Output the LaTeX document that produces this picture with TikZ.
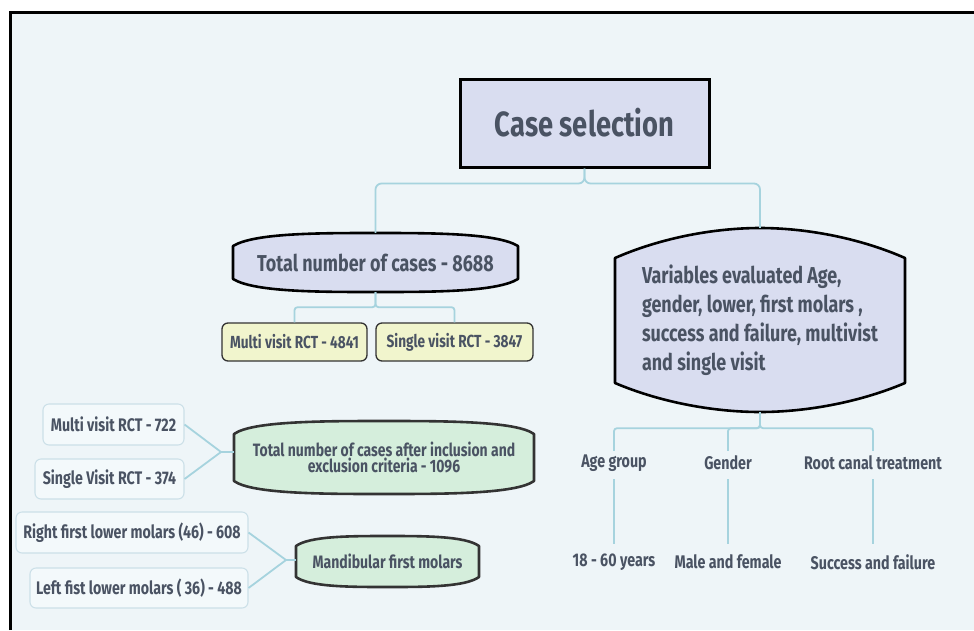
\documentclass[tikz,border=0pt]{standalone}
\usepackage{fontspec}
\setmainfont{Fira Sans Bold}[FakeStretch=0.78]
\definecolor{bgc}{HTML}{EEF5F8}
\definecolor{lav}{HTML}{D9DDF0}
\definecolor{yel}{HTML}{F1F5CD}
\definecolor{grn}{HTML}{D5EEDC}
\definecolor{conc}{HTML}{A6D3DE}
\definecolor{txt}{HTML}{4A5363}
\definecolor{leaff}{HTML}{F3F9FB}
\definecolor{leafd}{HTML}{CCE0E8}
% shape parameters: \pa, \pb (horizontal fractions), \pc (height fraction of first control)
\newcommand\hexnode[9]{%
  \pgfmathsetmacro\hM{(#3+#4)/2}%
  \pgfmathsetmacro\hh{(#4-#3)/2}%
  \pgfmathsetmacro\hW{#4-#3}%
  \pgfmathsetmacro\hH{#8-#5}%
  \pgfmathsetmacro\hC{(#5+#8)/2}%
  \pgfmathsetmacro\tA{#6+\pc*(#5-#6)}%
  \pgfmathsetmacro\bA{#7+\pc*(#8-#7)}%
  \path[#2] (#3,#7) -- (#3,#6)
    .. controls (#3+\pa*\hh,\tA) and (\hM-\pb*\hh,#5) .. (\hM,#5)
    .. controls (\hM+\pb*\hh,#5) and (#4-\pa*\hh,\tA) .. (#4,#6) -- (#4,#7)
    .. controls (#4-\pa*\hh,\bA) and (\hM+\pb*\hh,#8) .. (\hM,#8)
    .. controls (\hM-\pb*\hh,#8) and (#3+\pa*\hh,\bA) .. cycle;%
  \node[inner sep=0pt, minimum width=\hW pt, minimum height=\hH pt, text=txt, #9] (#1) at (\hM,\hC)}
\begin{document}
\begin{tikzpicture}[x=1pt,y=-1pt,
  lavshape/.style={fill=lav, draw=black, line width=2.6pt, line join=round},
  grnshape/.style={fill=grn, draw=black!80, line width=2.6pt, line join=round},
  conn/.style={draw=conc, line width=1.8pt},
  casebox/.style={fill=lav, draw=black, line width=3pt, text=txt, inner sep=0pt,
    font=\fontsize{35}{40}\selectfont},
  yelbox/.style={fill=yel, draw=black!80, line width=1.3pt, rounded corners=6pt,
    text=txt, inner sep=0pt, minimum height=38pt, font=\fontsize{17.5}{20}\selectfont},
  leafbox/.style={fill=leaff, draw=leafd, line width=1.1pt, rounded corners=6pt,
    text=txt, inner sep=0pt, font=\fontsize{18.2}{20}\selectfont},
  lbl/.style={text=txt, inner sep=0pt, minimum height=24pt, font=\fontsize{18.3}{20}\selectfont}]
\useasboundingbox (0,0) rectangle (974,630);
\fill[white] (0,0) rectangle (974,630);
\fill[bgc] (10,12) rectangle (974,630);
\draw[line width=3pt] (10,630) -- (10,12) -- (974,12);

% top box
\node[casebox, minimum width=249pt, minimum height=88pt] (case) at (584.5,123) {Case selection};

% main shapes
\def\pa{0.15}\def\pb{0.4}\def\pc{1}
\hexnode{total}{lavshape}{233}{518}{233}{246}{279}{292}{font=\fontsize{23}{26}\selectfont}
  {Total number of cases - 8688};
\def\pa{0.33}\def\pb{0.3}\def\pc{0.7}
\hexnode{var}{lavshape}{615}{905}{228}{258}{383}{412}{align=left, font=\fontsize{23}{29}\selectfont}
  {Variables evaluated Age,\\gender, lower, first molars ,\\success and failure, multivist\\and single visit};
\def\pa{0.12}\def\pb{0.4}\def\pc{1}
\hexnode{green}{grnshape}{234}{534}{421}{434}{481}{494}{align=center, font=\fontsize{17.9}{16}\selectfont}
  {Total number of cases after inclusion and\\exclusion criteria - 1096};
\def\pa{0.15}\def\pb{0.4}\def\pc{1}
\hexnode{mand}{grnshape}{296}{479}{536}{546}{577}{587}{font=\fontsize{18}{20}\selectfont}
  {Mandibular first molars};

% yellow boxes
\node[yelbox, minimum width=145pt] (m4841) at (294.5,342) {Multi visit RCT - 4841};
\node[yelbox, minimum width=157pt] (s3847) at (454.5,342) {Single visit RCT - 3847};

% leaf boxes
\node[leafbox, minimum width=141pt, minimum height=41pt] (m722) at (113.5,424.5) {Multi visit RCT - 722};
\node[leafbox, minimum width=149pt, minimum height=40pt] (s374) at (109.5,479) {Single Visit RCT - 374};
\node[leafbox, minimum width=232pt, minimum height=41pt] (r608) at (132,532.5) {Right first lower molars (46) - 608};
\node[leafbox, minimum width=218pt, minimum height=40pt] (l488) at (139,588) {Left fist lower molars ( 36) - 488};

% variable labels
\node[lbl] (age) at (614,463) {Age group};
\node[lbl] (gen) at (728,463) {Gender};
\node[lbl] (rct) at (873,463) {Root canal treatment};
\node[lbl] (yrs) at (614,562) {18 - 60 years};
\node[lbl] (mf) at (728,562) {Male and female};
\node[lbl] (sf) at (873,562) {Success and failure};

% connectors
\draw[conn, rounded corners=6pt] (case.south) -- ++(0,15) -| (total.north);
\draw[conn, rounded corners=6pt] (case.south) -- ++(0,15) -| (var.north);
\draw[conn, rounded corners=3pt] (total.south) -- ++(0,15) -| (m4841.north);
\draw[conn, rounded corners=3pt] (total.south) -- ++(0,15) -| (s3847.north);
\draw[conn, rounded corners=3pt] (var.south) -- ++(0,16) -| (age.north);
\draw[conn, rounded corners=3pt] (var.south) -- ++(0,16) -| (gen.north);
\draw[conn, rounded corners=3pt] (var.south) -- ++(0,16) -| (rct.north);
\draw[conn, shorten <=4pt, shorten >=6pt] (age.south) -- (yrs.north);
\draw[conn, shorten <=4pt, shorten >=6pt] (gen.south) -- (mf.north);
\draw[conn, shorten <=4pt, shorten >=6pt] (rct.south) -- (sf.north);
\coordinate (j1) at (221,452);
\coordinate (j2) at (286,560);
\draw[conn] (m722.east) -- (j1);
\draw[conn] (s374.east) -- (j1);
\draw[conn] (j1) -- (j1 -| green.west);
\draw[conn] (r608.east) -- (j2);
\draw[conn] (l488.east) -- (j2);
\draw[conn] (j2) -- (j2 -| mand.west);
\end{tikzpicture}
\end{document}
